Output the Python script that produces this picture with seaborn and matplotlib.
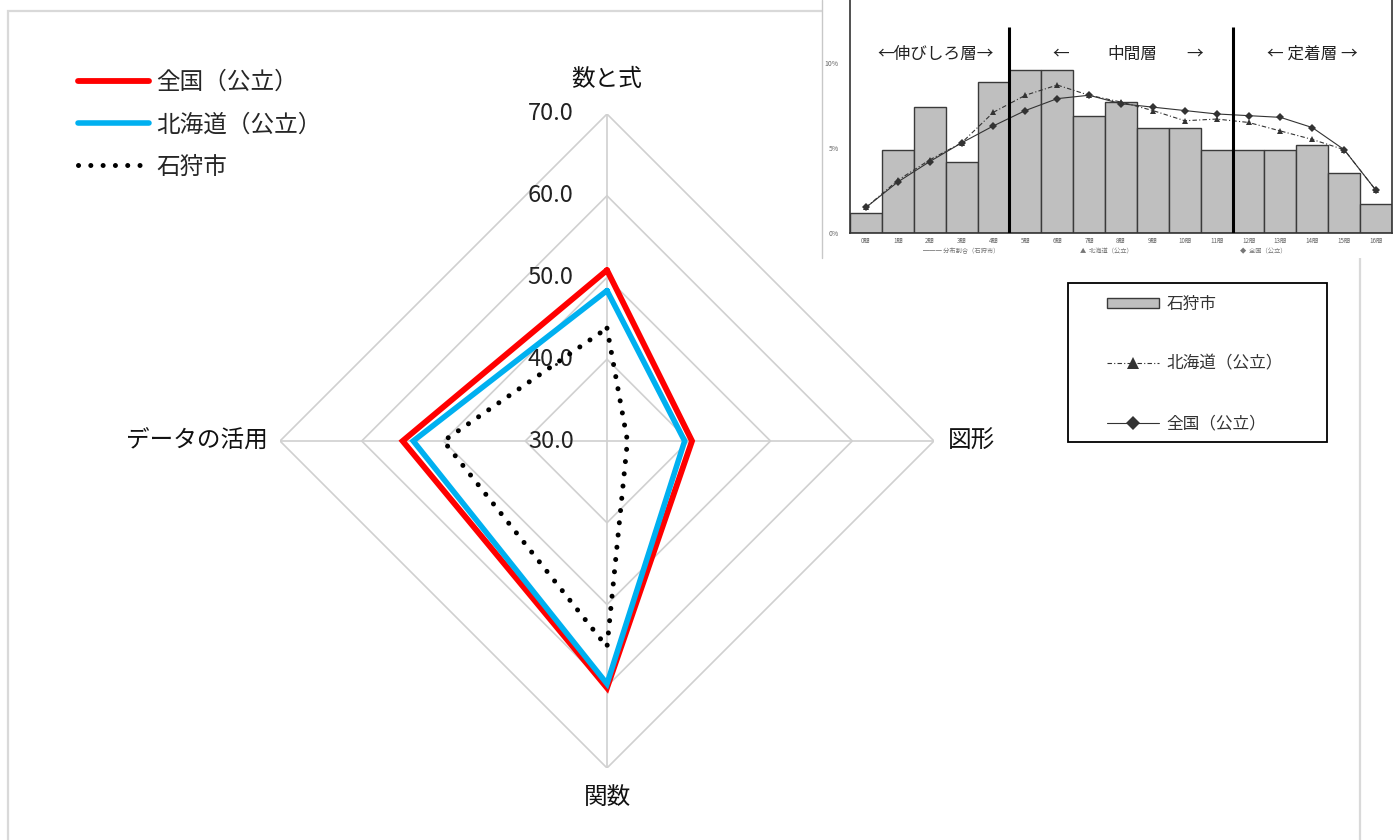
import numpy as np
import pandas as pd
import matplotlib
matplotlib.use('Agg')
import matplotlib.pyplot as plt
import seaborn as sns
from matplotlib.patches import Rectangle
from matplotlib.lines import Line2D

# ---------------- data ----------------
radar_categories = ['数と式', '図形', '関数', 'データの活用']
radar_series = ['全国（公立）', '北海道（公立）', '石狩市']
zenkoku = [50.9, 40.4, 60.2, 55.0]
hokkaido = [48.4, 39.5, 59.7, 53.7]
ishikari = [43.8, 32.5, 55.2, 50.0]
ring_levels = [30, 40, 50, 60, 70]
ring_labels = ['30.0', '40.0', '50.0', '60.0', '70.0']

score_labels = ['0問', '1問', '2問', '3問', '4問', '5問', '6問', '7問', '8問',
                '9問', '10問', '11問', '12問', '13問', '14問', '15問', '16問']
ishikari_dist = [1.2, 4.9, 7.4, 4.2, 8.9, 9.6, 9.6, 6.9, 7.7, 6.2, 6.2, 4.9, 4.9, 4.9, 5.2, 3.5, 1.7]
hokkaido_dist = [1.5, 3.1, 4.3, 5.3, 7.1, 8.1, 8.7, 8.1, 7.7, 7.2, 6.6, 6.7, 6.5, 6.0, 5.5, 4.9, 2.5]
zenkoku_dist = [1.5, 3.0, 4.2, 5.3, 6.3, 7.2, 7.9, 8.1, 7.6, 7.4, 7.2, 7.0, 6.9, 6.8, 6.2, 4.9, 2.5]
pct_ticks = [0, 5, 10]
pct_labels = ['0%', '5%', '10%']
layer_bounds = [4.5, 11.5]
inset_legend = ['石狩市', '北海道（公立）', '全国（公立）']

# ---------------- style ----------------
sns.set_theme(style='white')
plt.rcParams['font.family'] = ['Noto Sans CJK JP', 'DejaVu Sans']
plt.rcParams['axes.unicode_minus'] = False

W, H = 1399, 840
fig = plt.figure(figsize=(W / 100, H / 100), dpi=100)
fig.patch.set_facecolor('white')


def fx(px):
    return px / W


def fy(py):
    return 1 - py / H


# outer chart frame
fig.patches.append(Rectangle((fx(8), -0.05), (1360 - 8) / W, fy(11) + 0.05,
                             transform=fig.transFigure, fill=False,
                             edgecolor='#d9d9d9', lw=1.6, zorder=0.5))

# ---------------- radar ----------------
cx, cy, R = 607, 441, 327
ax = fig.add_axes([fx(cx - R), fy(cy + R), 2 * R / W, 2 * R / H], projection='polar')
ax.set_theta_offset(np.pi / 2)
ax.set_theta_direction(-1)
ax.patch.set_alpha(0)
n = len(radar_categories)
theta = np.arange(n + 1) * 2 * np.pi / n


def closed(v):
    return list(v) + [v[0]]


grid_col = '#d0d0d0'
for r in ring_levels[1:]:
    ax.plot(theta, [r] * (n + 1), color=grid_col, lw=1.2, zorder=1)
for t in theta[:-1]:
    ax.plot([t, t], [ring_levels[0], ring_levels[-1]], color=grid_col, lw=1.2, zorder=1)

sns.lineplot(x=theta, y=closed(zenkoku), sort=False, estimator=None, color='#ff0000',
             lw=4.2, ax=ax, legend=False, zorder=3)
l_zen = ax.lines[-1]
sns.lineplot(x=theta, y=closed(hokkaido), sort=False, estimator=None, color='#00b0f0',
             lw=4.0, ax=ax, legend=False, zorder=4)
l_hok = ax.lines[-1]
sns.lineplot(x=theta, y=closed(ishikari), sort=False, estimator=None, color='black',
             lw=3.6, ax=ax, legend=False, zorder=5)
l_ish = ax.lines[-1]
for ln in (l_zen, l_hok):
    ln.set_solid_joinstyle('miter')
l_ish.set_linestyle((0, (0.01, 2.45)))
l_ish.set_dash_capstyle('round')

ax.set_ylim(ring_levels[0], ring_levels[-1])
ax.grid(False)
ax.set_xticks([])
ax.set_yticks([])
ax.set_xlabel('')
ax.set_ylabel('')
ax.spines['polar'].set_visible(False)

for r, lab in zip(ring_levels, ring_labels):
    ax.annotate(lab, xy=(0, r), xytext=(-24, 0), textcoords='offset points',
                ha='right', va='center', fontsize=17, color='#222222',
                annotation_clip=False)

cat_offsets = [((0, 24.5), 'center'), ((10, 0), 'left'), ((0, -21), 'center'), ((-8.6, 0), 'right')]
for t, lab, (off, ha) in zip(theta[:-1], radar_categories, cat_offsets):
    ax.annotate(lab, xy=(t, ring_levels[-1]), xytext=off, textcoords='offset points',
                ha=ha, va='center', fontsize=17, color='#111111', annotation_clip=False)

fig.legend([l_zen, l_hok, l_ish], radar_series, loc='upper left',
           bbox_to_anchor=(fx(78), fy(71)), frameon=False, fontsize=17,
           handlelength=3.0, handletextpad=0.3, labelspacing=0.82,
           borderpad=0, borderaxespad=0)

# ---------------- inset histogram ----------------
fig.patches.append(Rectangle((fx(822), fy(258)), 1 - fx(822), 258 / H,
                             transform=fig.transFigure, facecolor='white',
                             edgecolor='none', zorder=1))
fig.add_artist(Line2D([fx(822), fx(822)], [fy(258), 1.0], transform=fig.transFigure,
                      color='#c8c8c8', lw=1.0, zorder=1.1))

ax2 = fig.add_axes([fx(850), fy(233), (1392 - 850) / W, 233 / H], zorder=2)
ax2.patch.set_alpha(0)
sns.barplot(x=score_labels, y=ishikari_dist, color='#bfbfbf', saturation=1,
            edgecolor='#3a3a3a', linewidth=1.0, width=1.0, ax=ax2, zorder=1)
xs = np.arange(len(score_labels))
sns.lineplot(x=xs, y=hokkaido_dist, color='#333333', lw=0.8, marker='^',
             markersize=4.5, markeredgewidth=0, ax=ax2, legend=False, zorder=3)
l2_hok = ax2.lines[-1]
l2_hok.set_linestyle((0, (4, 2, 1, 2)))
sns.lineplot(x=xs, y=zenkoku_dist, color='#333333', lw=0.8, marker='D',
             markersize=4.0, markeredgewidth=0, ax=ax2, legend=False, zorder=3)
l2_zen = ax2.lines[-1]

ax2.vlines(layer_bounds, 0, 12.1, color='black', lw=2.2, zorder=4)
ax2.set_xlim(-0.5, len(score_labels) - 0.5)
ax2.set_ylim(0, 13.7)
ax2.set_yticks(pct_ticks)
ax2.set_yticklabels(pct_labels)
ax2.tick_params(axis='y', length=0, pad=8, labelsize=5, labelcolor='#666666')
ax2.tick_params(axis='x', length=0, pad=3, labelsize=4.5, labelcolor='#666666')
ax2.set_xlabel('')
ax2.set_ylabel('')
ax2.spines['top'].set_visible(False)
for s in ('left', 'right', 'bottom'):
    ax2.spines[s].set_color('#333333')
    ax2.spines[s].set_linewidth(1.2)

ax2.text(2.2, 10.5, '←伸びしろ層→', ha='center', va='center', fontsize=12, color='#222222')
ax2.text(6.1, 10.5, '←', ha='center', va='center', fontsize=12, color='#222222')
ax2.text(8.35, 10.5, '中間層', ha='center', va='center', fontsize=12, color='#222222')
ax2.text(10.3, 10.5, '→', ha='center', va='center', fontsize=12, color='#222222')
ax2.text(14.0, 10.5, '← 定着層 →', ha='center', va='center', fontsize=12, color='#222222')

# tiny legend row under the inset
fig.text(fx(923), fy(251), '━━━ 分布割合（石狩市）', fontsize=4.5, color='#777777', va='center', zorder=3)
fig.text(fx(1080), fy(251), '▲  北海道（公立）', fontsize=4.5, color='#777777', va='center', zorder=3)
fig.text(fx(1240), fy(251), '◆  全国（公立）', fontsize=4.5, color='#777777', va='center', zorder=3)

# ---------------- inset legend box ----------------
fig.patches.append(Rectangle((fx(1068), fy(442)), (1327 - 1068) / W, (442 - 283) / H,
                             transform=fig.transFigure, facecolor='white',
                             edgecolor='black', lw=1.3, zorder=2))
leg2 = fig.legend([ax2.patches[0], l2_hok, l2_zen], inset_legend, loc='upper left',
                  bbox_to_anchor=(fx(1107), fy(296)), frameon=False, fontsize=12,
                  handlelength=3.1, handleheight=0.5, handletextpad=0.45,
                  labelspacing=2.55, borderpad=0, borderaxespad=0, markerscale=1.8)
leg2.set_zorder(6)
for tx in leg2.get_texts():
    tx.set_color('#333333')

fig.savefig('out.png', dpi=100)
